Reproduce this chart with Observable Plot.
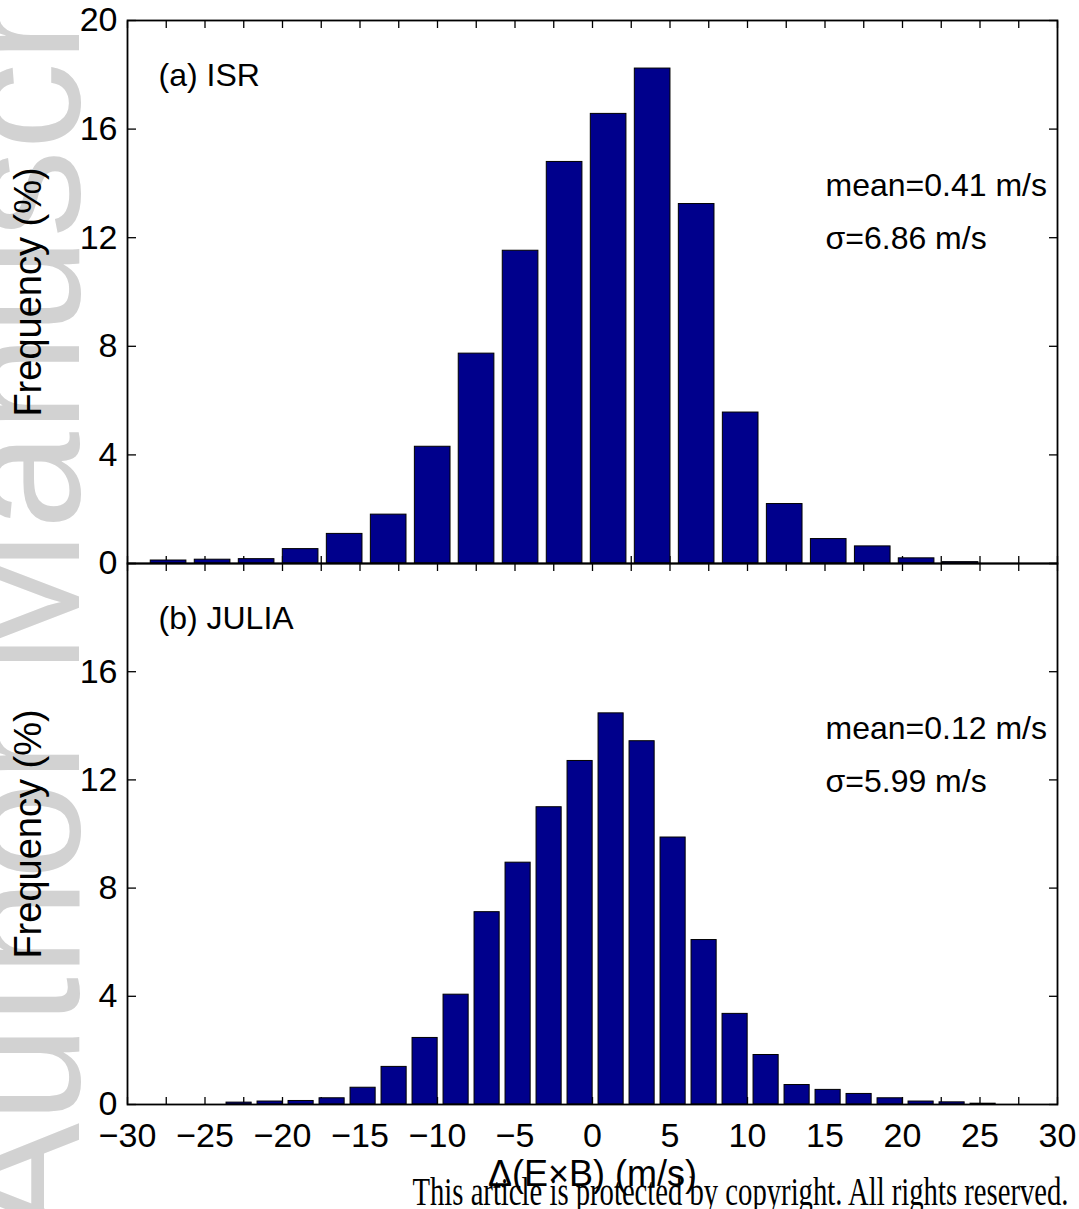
<!DOCTYPE html>
<html>
<head>
<meta charset="utf-8">
<script src="https://cdn.jsdelivr.net/npm/d3@7"></script>
<script src="https://cdn.jsdelivr.net/npm/@observablehq/plot@0.6"></script>
<style>
  html, body { margin: 0; padding: 0; background: #fff; }
  #fig { position: relative; width: 1079px; height: 1209px; overflow: hidden; background: #fff; }
  #fig svg { position: absolute; left: 0; }
</style>
</head>
<body>
<div id="fig"></div>
<script>
// Axis ticks and tick labels
const xMinorTicks = [-30, -27.5, -25, -22.5, -20, -17.5, -15, -12.5, -10, -7.5, -5, -2.5, 0,
                     2.5, 5, 7.5, 10, 12.5, 15, 17.5, 20, 22.5, 25, 27.5, 30];
const xLabelTicks = [-30, -25, -20, -15, -10, -5, 0, 5, 10, 15, 20, 25, 30];
const yTicks = [0, 4, 8, 12, 16, 20];
const yLabelsIsr = [0, 4, 8, 12, 16, 20];
const yLabelsJulia = [0, 4, 8, 12, 16];

// (a) ISR: bin centres (m/s) and frequency (%)
const isrBins = [-27.35, -24.51, -21.67, -18.83, -15.99, -13.15, -10.31, -7.48, -4.64, -1.80,
                 1.04, 3.88, 6.72, 9.56, 12.40, 15.24, 18.08, 20.91, 23.75];
const isrFreq = [0.11, 0.14, 0.16, 0.53, 1.09, 1.80, 4.30, 7.73, 11.52, 14.79,
                 16.56, 18.23, 13.24, 5.56, 2.19, 0.90, 0.63, 0.19, 0.05];
const isrLabel = "(a) ISR";
const isrStats = ["mean=0.41 m/s", "σ=6.86 m/s"];

// (b) JULIA: bin centres (m/s) and frequency (%)
const juliaBins = [-22.8, -20.8, -18.8, -16.8, -14.8, -12.8, -10.8, -8.8, -6.8, -4.8, -2.8, -0.8,
                   1.2, 3.2, 5.2, 7.2, 9.2, 11.2, 13.2, 15.2, 17.2, 19.2, 21.2, 23.2, 25.2];
const juliaFreq = [0.07, 0.11, 0.13, 0.23, 0.62, 1.39, 2.46, 4.06, 7.11, 8.94, 10.99, 12.70,
                   14.46, 13.43, 9.87, 6.08, 3.35, 1.83, 0.72, 0.54, 0.39, 0.23, 0.11, 0.08, 0.03];
const juliaLabel = "(b) JULIA";
const juliaStats = ["mean=0.12 m/s", "σ=5.99 m/s"];

const yTitle = "Frequency (%)";
const xTitle = "Δ(E×B) (m/s)";
const watermark = "Author Manuscript";
const notice = "This article is protected by copyright. All rights reserved.";

const sans = "'Liberation Sans', Arial, Helvetica, sans-serif";
const barFill = "#00008c";
const minus = d => d < 0 ? `\u2212${-d}` : `${d}`;

const fig = document.getElementById("fig");

// Background layer: watermark and copyright line
const backdrop = Plot.plot({
  width: 1079, height: 1209, margin: 0,
  style: {background: "transparent", fontFamily: sans},
  marks: [
    Plot.text([watermark], {
      frameAnchor: "bottom-left", dx: 22, dy: 30, rotate: -90,
      textAnchor: "start", lineAnchor: "middle",
      fontSize: 175, fill: "#d2d2d2"
    }),
    Plot.text([notice], {
      frameAnchor: "bottom-right", dx: -11, dy: -17,
      textAnchor: "end", lineAnchor: "middle",
      fontSize: 40, fontFamily: "'Liberation Serif', 'DejaVu Serif', serif", fill: "#000"
    })
  ]
});
backdrop.style.top = "0px";
fig.appendChild(backdrop);
// squeeze the copyright line to its printed width
d3.select(backdrop).selectAll("text").filter(function() { return this.textContent === notice; })
  .attr("textLength", 656).attr("lengthAdjust", "spacingAndGlyphs");

function panel({bins, freq, tag, stats, yLabels, showX, top, height, marginBottom}) {
  const step = (bins[bins.length - 1] - bins[0]) / (bins.length - 1);
  const rows = bins.map((b, i) => ({lo: b - 0.405 * step, hi: b + 0.405 * step, freq: freq[i]}));
  const note = (text, dx, dy) => Plot.text([text], {
    frameAnchor: "top-left", dx, dy, textAnchor: "start", lineAnchor: "middle", fontSize: 32
  });
  const marks = [
    Plot.axisX(xMinorTicks, {anchor: "bottom", tickSize: -7, tickFormat: () => "", label: null, strokeWidth: 1.3}),
    Plot.axisX(xMinorTicks, {anchor: "top", tickSize: -7, tickFormat: () => "", label: null, strokeWidth: 1.3}),
    Plot.axisY(yTicks, {anchor: "left", tickSize: -9, tickFormat: () => "", label: null, strokeWidth: 1.3}),
    Plot.axisY(yTicks, {anchor: "right", tickSize: -9, tickFormat: () => "", label: null, strokeWidth: 1.3}),
    Plot.axisY(yLabels, {anchor: "left", tickSize: 0, tickPadding: 10, fontSize: 34, label: null}),
    Plot.rectY(rows, {x1: "lo", x2: "hi", y: "freq", fill: barFill, stroke: "#000", strokeWidth: 1}),
    Plot.frame({stroke: "#000", strokeWidth: 1.8}),
    note(tag, 31, 55),
    note(stats[0], 698, 165),
    note(stats[1], 698, 218),
    Plot.text([yTitle], {
      frameAnchor: "left", dx: -99, rotate: -90,
      textAnchor: "middle", lineAnchor: "middle", fontSize: 38
    })
  ];
  if (showX) {
    marks.push(
      Plot.axisX(xLabelTicks, {anchor: "bottom", tickSize: 0, tickPadding: 18, fontSize: 34,
                               tickFormat: minus, label: null}),
      Plot.text([xTitle], {
        frameAnchor: "bottom", dy: 70, textAnchor: "middle", lineAnchor: "middle", fontSize: 36
      })
    );
  }
  const svg = Plot.plot({
    width: 1079, height,
    marginLeft: 127, marginRight: 22, marginTop: 20, marginBottom,
    style: {background: "transparent", fontFamily: sans, color: "#000"},
    x: {domain: [-30, 30]},
    y: {domain: [0, 20]},
    marks
  });
  svg.style.top = `${top}px`;
  return svg;
}

fig.appendChild(panel({
  bins: isrBins, freq: isrFreq, tag: isrLabel, stats: isrStats,
  yLabels: yLabelsIsr, showX: false, top: 0, height: 600, marginBottom: 37
}));
fig.appendChild(panel({
  bins: juliaBins, freq: juliaFreq, tag: juliaLabel, stats: juliaStats,
  yLabels: yLabelsJulia, showX: true, top: 543, height: 666, marginBottom: 105
}));
</script>
</body>
</html>
